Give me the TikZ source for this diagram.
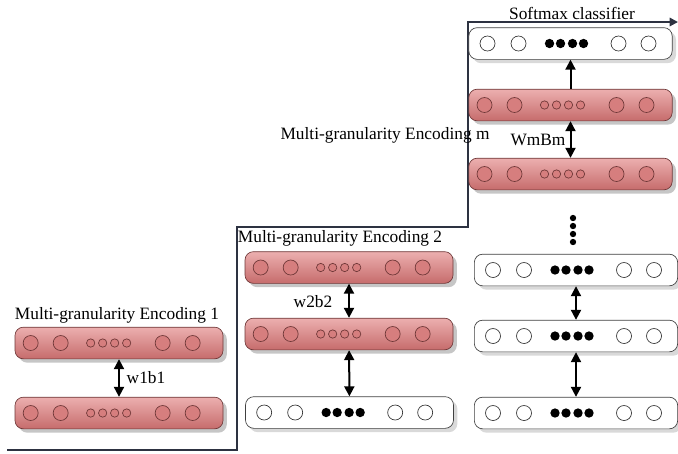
\documentclass[tikz,border=0pt]{standalone}
\usepackage{fontspec}
\setmainfont{Liberation Serif}
\usetikzlibrary{arrows.meta,positioning,shapes,shadows}
\definecolor{rowtop}{RGB}{236,175,175}
\definecolor{rowbot}{RGB}{198,108,108}
\definecolor{rowline}{RGB}{110,55,55}
\definecolor{cellfill}{RGB}{214,126,126}
\definecolor{stairline}{RGB}{45,50,65}
\begin{document}
\begin{tikzpicture}[x=0.6pt, y=-0.6pt, thick, font=\fontsize{10.4}{12}\selectfont]

		\useasboundingbox (0,0) rectangle (678,453);
		\tikzstyle{redrow}=[rectangle, rounded corners=5pt, thin, draw=rowline, top color=rowtop, bottom color=rowbot, drop shadow={opacity=0.45}, minimum width=124.8pt, minimum height=19pt]
		\tikzstyle{whiterow}=[rectangle, rounded corners=5pt, thin, draw=black!75, fill=white, drop shadow={opacity=0.3}, minimum width=122pt, minimum height=19pt]
		\tikzstyle{link}=[{Triangle[length=6pt,width=6pt]}-{Triangle[length=6pt,width=6pt]}, line width=1.2pt, black]
		\tikzstyle{lab}=[inner sep=0pt, text=black]

		% staircase border
		\coordinate (s0) at (7,450);
		\coordinate (s1) at (237,450);
		\coordinate (s2) at (237,227);
		\coordinate (s3) at (468,227);
		\coordinate (s4) at (468,22);
		\coordinate (s5) at (678,22);
		\draw[-{Triangle[length=5pt,width=5pt]}, stairline, line width=1.2pt] (s0) -- (s1) -- (s2) -- (s3) -- (s4) -- (s5);

		\node[redrow] (a1) at (119,343) {};
		\node[redrow] (a2) at (119,413) {};
		\node[redrow] (b1) at (349,267.5) {};
		\node[redrow] (b2) at (349,334) {};
		\node[whiterow, minimum width=124.8pt] (b3) at (349.5,412.5) {};
		\node[whiterow] (c1) at (570.5,43.5) {};
		\node[redrow, minimum width=122pt] (c2) at (570.5,105) {};
		\node[redrow, minimum width=122pt] (c3) at (570.5,174) {};
		\node[whiterow] (c4) at (576,270) {};
		\node[whiterow] (c5) at (576,336) {};
		\node[whiterow] (c6) at (576,413) {};

		% units in the rows
		\foreach \r in {a1,a2,b1,b2,c2,c3}{
			\foreach \dx in {16,46,148,178}
				\draw[thin, draw=rowline, fill=cellfill] (\r.west) ++(\dx,0) circle (4.5pt);
			\foreach \dx in {76,88,100,112}
				\draw[thin, draw=rowline, fill=cellfill] (\r.west) ++(\dx,0) circle (2.5pt);
		}
		\foreach \r in {b3,c1,c4,c5,c6}{
			\foreach \dx in {19,50,150,180}
				\draw[thin, draw=black!80, fill=white] (\r.west) ++(\dx,0) circle (4.5pt);
			\foreach \dx in {81,92,104,115}
				\fill[black] (\r.west) ++(\dx,0) circle (2.8pt);
		}

		% vertical dots
		\foreach \y in {218,226,234,242}
			\fill[black] (573,\y) circle (1.9pt);

		% links between rows
		\draw[link] (a1) -- (a2);
		\draw[link] (b1) -- (b2);
		\draw[link] (b2) -- (b3);
		\draw[-{Triangle[length=6pt,width=6pt]}, line width=1.2pt, black] (c2) -- (c1);
		\draw[link] (c2) -- (c3);
		\draw[link] (c4) -- (c5);
		\draw[link] (c5) -- (c6);

		\node[lab] (l1) at (117,315) {Multi-granularity Encoding 1};
		\node[lab] (l2) at (340,238) {Multi-granularity Encoding 2};
		\node[lab] (lm) at (385,135) {Multi-granularity Encoding m};
		\node[lab] (ls) at (572,13) {Softmax classifier};
		\node[lab] (w1) at (146,378) {w1b1};
		\node[lab] (w2) at (313,302) {w2b2};
		\node[lab] (wm) at (538,140) {WmBm};

\end{tikzpicture}
\end{document}
